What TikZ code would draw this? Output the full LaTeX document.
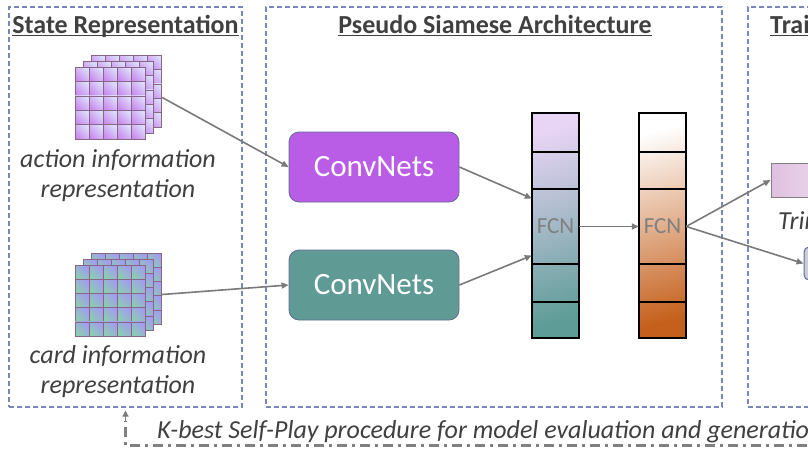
\documentclass[tikz,border=0pt]{standalone}
\usepackage{fontspec}
\setmainfont{Carlito}
\usetikzlibrary{arrows.meta}

\definecolor{panelblue}{HTML}{7A88B8}
\definecolor{txtgray}{HTML}{404040}
\definecolor{arrgray}{HTML}{7A7A7A}
\definecolor{convpurple}{HTML}{B95CE6}
\definecolor{convteal}{HTML}{5F9A95}
\definecolor{cellpink}{HTML}{C98CEE}
\definecolor{celllav}{HTML}{DCDCFB}
\definecolor{cellgreen}{HTML}{8CCDB0}
\definecolor{cellblue}{HTML}{A29CF0}
\definecolor{fcntop}{HTML}{E8D4F5}
\definecolor{fcnmid}{HTML}{C2BEDC}
\definecolor{fcnbot}{HTML}{5E9C97}
\definecolor{orgmid}{HTML}{F1D2B4}
\definecolor{orgbot}{HTML}{C5601C}

\begin{document}
\begin{tikzpicture}[x=1pt,y=-1pt,
 panel/.style={draw=panelblue,dash pattern=on 5pt off 3pt,line width=1.1pt,inner sep=0pt},
 title/.style={font=\fontsize{26}{30}\selectfont\bfseries,text=txtgray,inner sep=0pt,anchor=base},
 caption/.style={font=\fontsize{26}{30}\selectfont\itshape,text=txtgray,align=center},
 conv/.style={rounded corners=10pt,minimum width=170pt,minimum height=70pt,draw=panelblue!80!black,
  line width=0.8pt,text=white,font=\fontsize{31}{36}\selectfont},
 fcncell/.style={minimum width=47pt,minimum height=75pt,inner sep=0pt,text=gray,font=\fontsize{23}{26}\selectfont},
 hit/.style={minimum width=87pt,minimum height=85pt,inner sep=0pt},
 link/.style={draw=arrgray,line width=1.6pt,-{Triangle[length=7pt,width=6pt]}},
 loopline/.style={draw=black!50,line width=3pt,dash pattern=on 10pt off 5pt on 3pt off 5pt},
 cellA/.style={draw=black!55!violet!60,line width=0.6pt,shading=axis,left color=cellpink,right color=celllav,shading angle=135},
 cellB/.style={draw=black!55!violet!60,line width=0.6pt,shading=axis,left color=cellgreen,right color=cellblue,shading angle=135}]
\useasboundingbox (0,0) rectangle (808,455);

% panels
\node[panel,minimum width=233pt,minimum height=400pt] (repbox) at (125.5,207) {};
\node[panel,minimum width=456pt,minimum height=400pt] (archbox) at (494,207) {};
\node[panel,minimum width=200pt,minimum height=400pt] (trainbox) at (848,207) {};

\node[title] (titleA) at (125.5,33) {State Representation};
\node[title] (titleB) at (495,33) {Pseudo Siamese Architecture};
\node[title,anchor=base west] (titleC) at (770,33) {Training};
\draw[txtgray,line width=1.6pt] ([yshift=-2.5pt]titleA.base west) -- ([yshift=-2.5pt]titleA.base east);
\draw[txtgray,line width=1.6pt] ([yshift=-2.5pt]titleB.base west) -- ([yshift=-2.5pt]titleB.base east);
\draw[txtgray,line width=1.6pt] ([yshift=-2.5pt]titleC.base west) -- ([yshift=-2.5pt]titleC.base east);

% state planes
\foreach \l in {2,1,0} {
 \foreach \i in {0,...,4} \foreach \j in {0,...,4} {
  \draw[cellA] ({75+8.3*\l+14*\i},{67-6*\l+14.4*\j}) rectangle ++(14,14.4);
  \draw[cellB] ({75+8.3*\l+14*\i},{265-6*\l+14.2*\j}) rectangle ++(14,14.2);
 }
}
\node[hit] (actrep) at (118.5,97.5) {};
\node[hit] (cardrep) at (118.5,294.5) {};

\node[caption] (actcap) at (118,176) {action information\\representation};
\node[caption] (cardcap) at (118,371.5) {card information\\representation};

% convnets
\node[conv,fill=convpurple] (convA) at (374,167) {ConvNets};
\node[conv,fill=convteal] (convB) at (374,285) {ConvNets};

% fcn columns
\fill[shading=axis,top color=fcntop,middle color=fcnmid,bottom color=fcnbot,shading angle=15]
 (532,113) rectangle (579,338);
\fill[shading=axis,top color=white,middle color=orgmid,bottom color=orgbot,shading angle=15]
 (639,113) rectangle (686,338);
\foreach \x in {532,639} {
 \draw[line width=1.4pt] (\x,113) rectangle ++(47,225);
 \foreach \y in {152,189,264,302} \draw[line width=1.4pt] (\x,\y) -- ++(47,0);
}
\node[fcncell] (fcnA) at (555.5,226.5) {FCN};
\node[fcncell] (fcnB) at (662.5,226.5) {FCN};

% training side
\node[draw=gray,line width=1pt,shading=axis,left color=violet!25,right color=violet!10,
 minimum width=80pt,minimum height=34pt] (trainA) at (811,180) {};
\node[caption,anchor=west,inner sep=0pt] (trainTxt) at (778,223) {Trinal-Clip};
\node[draw=panelblue!80!black,line width=1pt,fill=blue!12!gray!35,rounded corners=5pt,
 minimum width=60pt,minimum height=33pt] (trainB) at (834,263.5) {};

% connectors
\draw[link] (actrep.east) -- (convA.west);
\draw[link] (cardrep.east) -- (convB.west);
\draw[link] (convA.east) -- ([yshift=28pt]fcnA.west);
\draw[link] (convB.east) -- ([yshift=-29pt]fcnA.west);
\draw[link] (fcnA.east) -- (fcnB.west);
\draw[link] (fcnB.east) -- (trainA.west);
\draw[link] (fcnB.east) -- (trainB.west);

% self-play loop
\coordinate (loopA) at (125.5,445);
\coordinate (loopB) at (830,445);
\draw[loopline] (loopB) -- (loopA) -- ([yshift=-13pt]repbox.south);
\draw[arrgray,line width=1.6pt,-{Triangle[length=6pt,width=6pt]}] ([yshift=-13pt]repbox.south) -- ([yshift=-3pt]repbox.south);
\node[caption,anchor=west,inner sep=0pt] (looptxt) at (157,432)
 {K-best Self-Play procedure for model evaluation and generation};
\end{tikzpicture}
\end{document}
